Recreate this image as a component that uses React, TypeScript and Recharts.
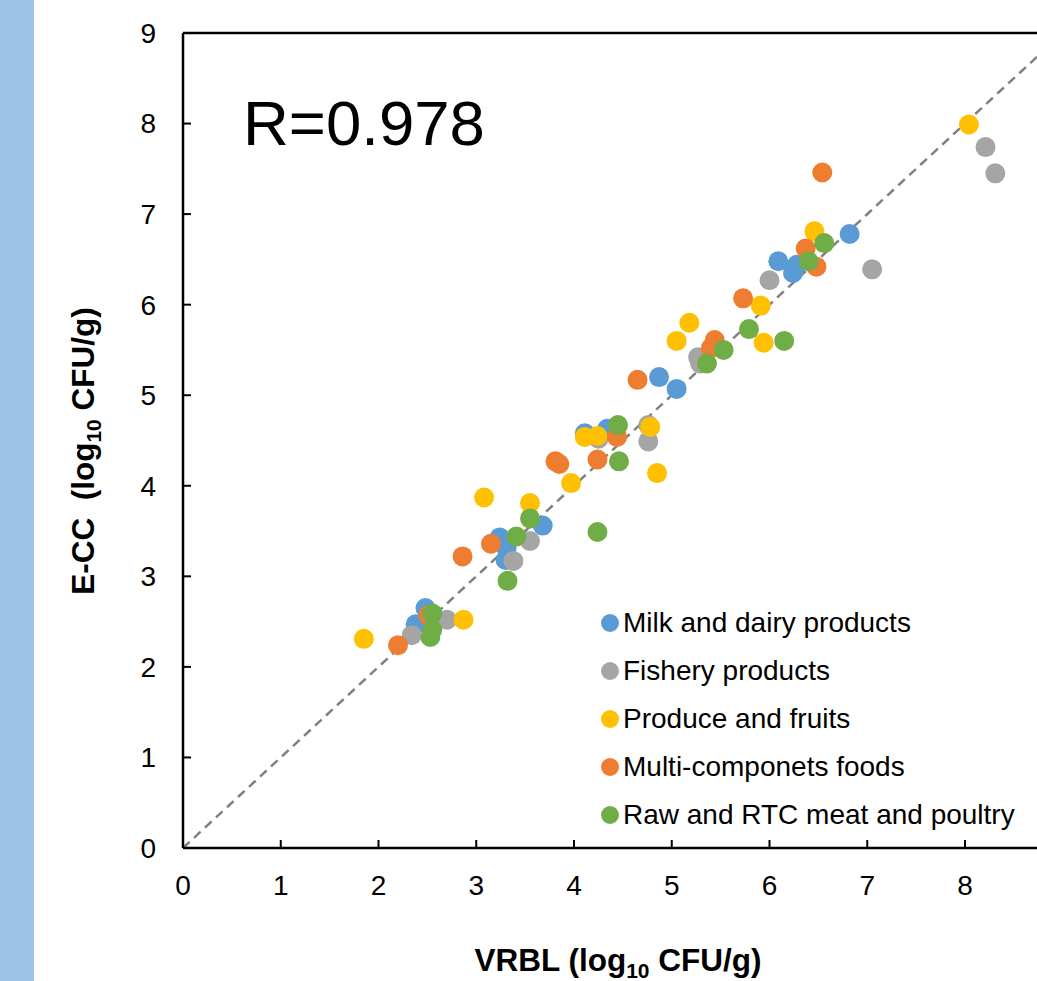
import {
    ScatterChart,
    Scatter,
    XAxis,
    YAxis,
    ReferenceLine,
} from "recharts";

type Pt = { x: number; y: number };

const milk: Pt[] = [
    { x: 2.48, y: 2.65 }, { x: 2.38, y: 2.47 }, { x: 3.24, y: 3.43 }, { x: 3.31, y: 3.31 },
    { x: 3.30, y: 3.18 }, { x: 3.68, y: 3.56 }, { x: 4.11, y: 4.58 }, { x: 4.34, y: 4.63 },
    { x: 4.87, y: 5.20 }, { x: 5.05, y: 5.07 }, { x: 6.09, y: 6.48 }, { x: 6.28, y: 6.44 },
    { x: 6.24, y: 6.35 }, { x: 6.82, y: 6.78 },
];

const fishery: Pt[] = [
    { x: 2.34, y: 2.35 }, { x: 2.70, y: 2.52 }, { x: 3.38, y: 3.17 }, { x: 3.55, y: 3.39 },
    { x: 4.25, y: 4.52 }, { x: 4.76, y: 4.49 }, { x: 4.76, y: 4.67 }, { x: 5.27, y: 5.42 },
    { x: 5.29, y: 5.35 }, { x: 6.00, y: 6.27 }, { x: 7.05, y: 6.39 }, { x: 8.21, y: 7.74 },
    { x: 8.31, y: 7.45 },
];

const produce: Pt[] = [
    { x: 1.85, y: 2.31 }, { x: 2.87, y: 2.52 }, { x: 3.08, y: 3.87 }, { x: 3.55, y: 3.81 },
    { x: 3.97, y: 4.03 }, { x: 4.11, y: 4.54 }, { x: 4.24, y: 4.55 }, { x: 4.78, y: 4.65 },
    { x: 4.85, y: 4.14 }, { x: 5.05, y: 5.60 }, { x: 5.18, y: 5.80 }, { x: 5.91, y: 5.99 },
    { x: 5.94, y: 5.58 }, { x: 6.46, y: 6.81 }, { x: 8.04, y: 7.99 },
];

const multi: Pt[] = [
    { x: 2.20, y: 2.24 }, { x: 2.51, y: 2.57 }, { x: 2.86, y: 3.22 }, { x: 3.15, y: 3.36 },
    { x: 3.81, y: 4.27 }, { x: 3.85, y: 4.24 }, { x: 4.24, y: 4.29 }, { x: 4.44, y: 4.54 },
    { x: 4.65, y: 5.17 }, { x: 5.44, y: 5.61 }, { x: 5.40, y: 5.52 }, { x: 5.73, y: 6.07 },
    { x: 6.37, y: 6.62 }, { x: 6.48, y: 6.42 }, { x: 6.54, y: 7.46 },
];

const raw: Pt[] = [
    { x: 2.55, y: 2.59 }, { x: 2.55, y: 2.41 }, { x: 2.53, y: 2.33 }, { x: 3.32, y: 2.95 },
    { x: 3.41, y: 3.44 }, { x: 3.55, y: 3.64 }, { x: 4.24, y: 3.49 }, { x: 4.45, y: 4.67 },
    { x: 4.46, y: 4.27 }, { x: 5.36, y: 5.35 }, { x: 5.53, y: 5.50 }, { x: 5.79, y: 5.73 },
    { x: 6.15, y: 5.60 }, { x: 6.40, y: 6.48 }, { x: 6.56, y: 6.68 },
];

// only 0..8 are visible, the rest of the axis runs off the right edge
const xTicks = [0, 1, 2, 3, 4, 5, 6, 7, 8];
const yTicks = [0, 1, 2, 3, 4, 5, 6, 7, 8, 9];
const diagonal = [{ x: 0, y: 0 }, { x: 9, y: 9 }];

const series = [
    { name: "Milk and dairy products", data: milk, color: "#5B9BD5" },
    { name: "Fishery products", data: fishery, color: "#A5A5A5" },
    { name: "Produce and fruits", data: produce, color: "#FFC000" },
    { name: "Multi-componets foods", data: multi, color: "#ED7D31" },
    { name: "Raw and RTC meat and poultry", data: raw, color: "#70AD47" },
];

const FONT = "'Liberation Sans', Arial, sans-serif";

const dot = (color: string) => (props: any) => (
    <circle cx={props.cx} cy={props.cy} r={10} fill={color} />
);

// legend drawn as an overlay so it doesn't take space from the plot
const LegendBox = () => (
    <div
        style={{
            position: "absolute",
            left: 601,
            top: 599,
            fontFamily: FONT,
            fontSize: 28,
            color: "#000",
        }}
    >
        {series.map((s) => (
            <div
                key={s.name}
                style={{ height: 48, display: "flex", alignItems: "center", whiteSpace: "nowrap" }}
            >
                <span
                    style={{
                        width: 18,
                        height: 18,
                        borderRadius: 9,
                        background: s.color,
                        marginRight: 4,
                        display: "inline-block",
                    }}
                />
                {s.name}
            </div>
        ))}
    </div>
);

const App = () => {
    return (
        <div
            style={{
                position: "fixed",
                left: 0,
                top: 0,
                width: 1037,
                height: 981,
                overflow: "hidden",
                background: "#fff",
            }}
        >
            <div
                style={{ position: "absolute", left: 0, top: 0, width: 34, height: 981, background: "#9DC3E6" }}
            />
            <ScatterChart
                width={1200}
                height={981}
                margin={{ top: 33, left: 182, right: 39.5, bottom: 132 }}
                style={{ position: "absolute", left: 0, top: 0 }}
            >
                <XAxis
                    type="number"
                    dataKey="x"
                    domain={[0, 10]}
                    ticks={xTicks}
                    height={1}
                    interval={0}
                    allowDataOverflow
                    axisLine={{ stroke: "#000", strokeWidth: 2.5 }}
                    tickLine={{ stroke: "#000", strokeWidth: 2 }}
                    tickSize={-8}
                    tickMargin={35}
                    tick={{ fontSize: 28, fill: "#000", fontFamily: FONT }}
                    label={{
                        content: () => (
                            <text x={618} y={971} textAnchor="middle" fontFamily={FONT} fontSize={31.5} fontWeight="bold" fill="#000">
                                VRBL (log
                                <tspan fontSize={21} dy={7}>10</tspan>
                                <tspan dy={-7}> CFU/g)</tspan>
                            </text>
                        ),
                    }}
                />
                <YAxis
                    type="number"
                    dataKey="y"
                    domain={[0, 9]}
                    ticks={yTicks}
                    width={1}
                    interval={0}
                    allowDataOverflow
                    axisLine={{ stroke: "#000", strokeWidth: 2.5 }}
                    tickLine={{ stroke: "#000", strokeWidth: 2 }}
                    tickSize={-8}
                    tickMargin={35}
                    tick={{ fontSize: 28, fill: "#000", fontFamily: FONT }}
                    label={{
                        content: () => (
                            <text
                                x={94}
                                y={451}
                                transform="rotate(-90 94 451)"
                                textAnchor="middle"
                                fontFamily={FONT}
                                fontSize={31.5}
                                fontWeight="bold"
                                fill="#000"
                                style={{ whiteSpace: "pre" }}
                            >
                                {"E-CC  (log"}
                                <tspan fontSize={21} dy={7}>10</tspan>
                                <tspan dy={-7}> CFU/g)</tspan>
                            </text>
                        ),
                    }}
                />
                <ReferenceLine
                    y={9}
                    stroke="#000"
                    strokeWidth={2.5}
                    label={{
                        content: () => (
                            <text x={243} y={145} fontFamily={FONT} fontSize={63.5} fill="#000">
                                R=0.978
                            </text>
                        ),
                    }}
                />
                <ReferenceLine
                    segment={diagonal}
                    stroke="#808080"
                    strokeWidth={2.5}
                    strokeDasharray="9 6"
                />
                {series.map((s) => (
                    <Scatter
                        key={s.name}
                        name={s.name}
                        data={s.data}
                        fill={s.color}
                        shape={dot(s.color)}
                        isAnimationActive={false}
                    />
                ))}
            </ScatterChart>
            <LegendBox />
        </div>
    );
};

export default App;
